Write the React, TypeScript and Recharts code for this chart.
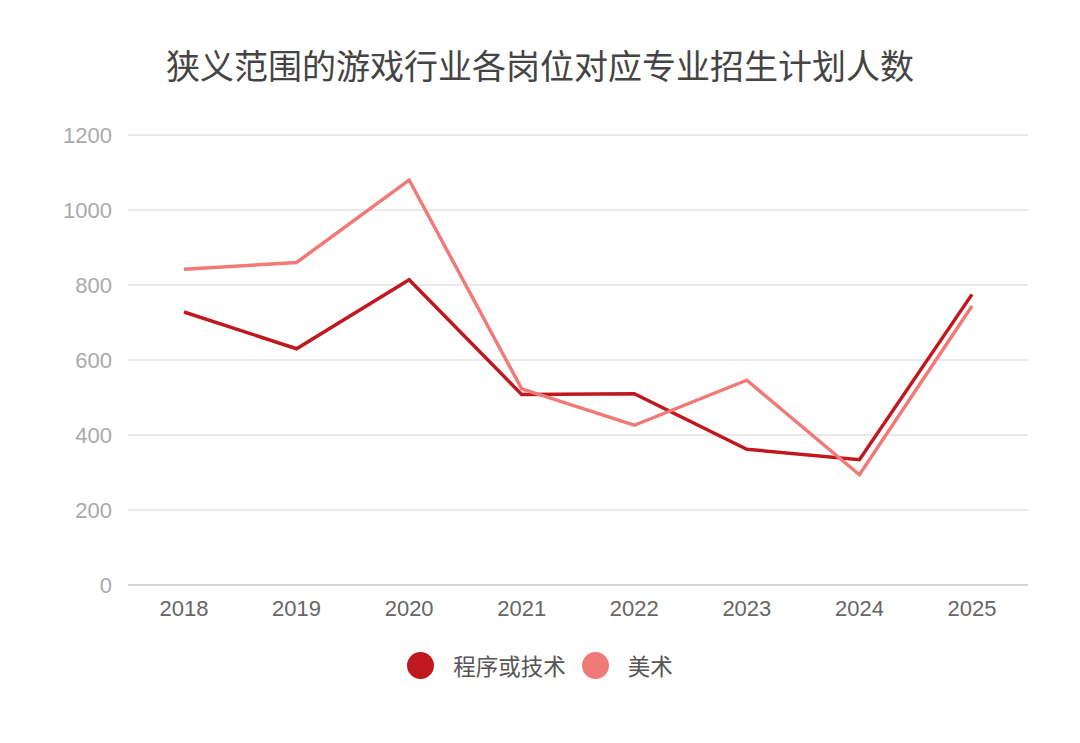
import { CartesianGrid, Line, LineChart, XAxis, YAxis } from "recharts"

const years = ["2018", "2019", "2020", "2021", "2022", "2023", "2024", "2025"]
const techPlan = [728, 630, 814, 508, 510, 362, 334, 775]
const artPlan = [842, 860, 1080, 523, 426, 546, 294, 744]
const yTicks = [0, 200, 400, 600, 800, 1000, 1200]

const title = "狭义范围的游戏行业各岗位对应专业招生计划人数"

const series = [
  { key: "tech", name: "程序或技术", color: "#c0181f", values: techPlan },
  { key: "art", name: "美术", color: "#f07a78", values: artPlan },
]

const data = years.map((year, i) => {
  const row: Record<string, string | number> = { year }
  series.forEach((s) => {
    row[s.key] = s.values[i]
  })
  return row
})

const cjkFont = '"Noto Sans CJK SC", "Noto Sans", sans-serif'
const numFont = '"Liberation Sans", Arial, sans-serif'

export default function App() {
  return (
    <div style={{ position: "absolute", left: 0, top: 0, width: 1080, height: 743, background: "#fff", fontFamily: cjkFont }}>
      <div
        style={{
          position: "absolute",
          top: 42,
          left: 0,
          width: 1080,
          textAlign: "center",
          fontSize: 34,
          color: "#444",
          lineHeight: "46px",
        }}
      >
        {title}
      </div>
      <LineChart
        width={1080}
        height={743}
        data={data}
        margin={{ top: 135, right: 52, bottom: 128, left: 68 }}
      >
        <CartesianGrid vertical={false} stroke="#e2e2e8" strokeWidth={1.5} />
        <XAxis
          dataKey="year"
          padding={{ left: 56, right: 56 }}
          height={30}
          axisLine={{ stroke: "#cccccc", strokeWidth: 1.5 }}
          tickLine={false}
          tickMargin={9}
          tick={{ fill: "#666", fontSize: 22, fontFamily: numFont }}
        />
        <YAxis
          width={60}
          domain={[0, 1200]}
          ticks={yTicks}
          axisLine={false}
          tickLine={false}
          tickMargin={10}
          tick={{ fill: "#aaa", fontSize: 22, fontFamily: numFont }}
        />
        {series.map((s) => (
          <Line
            key={s.key}
            dataKey={s.key}
            name={s.name}
            stroke={s.color}
            strokeWidth={3.5}
            dot={false}
            activeDot={false}
            isAnimationActive={false}
          />
        ))}
      </LineChart>
      <div
        style={{
          position: "absolute",
          top: 649,
          left: 0,
          width: 1080,
          display: "flex",
          justifyContent: "center",
          alignItems: "center",
          gap: 16,
          fontSize: 22.5,
          color: "#555",
        }}
      >
        {series.map((s) => (
          <div key={s.key} style={{ display: "flex", alignItems: "center" }}>
            <span
              style={{
                display: "inline-block",
                width: 27,
                height: 27,
                borderRadius: "50%",
                background: s.color,
                marginRight: 19,
              }}
            />
            <span style={{ lineHeight: "32px" }}>{s.name}</span>
          </div>
        ))}
      </div>
    </div>
  )
}
